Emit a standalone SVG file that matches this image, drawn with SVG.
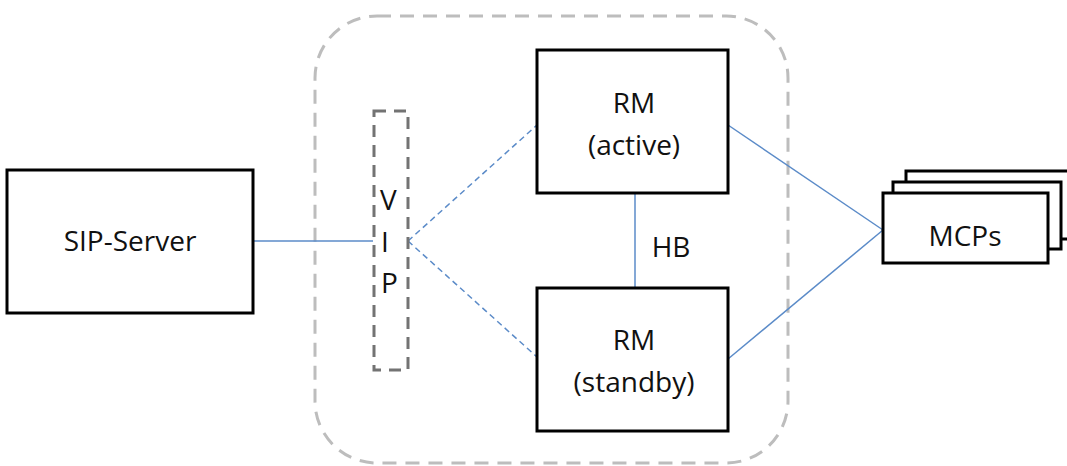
<svg xmlns="http://www.w3.org/2000/svg" width="1067" height="466" viewBox="0 0 1067 466">
<style>
.box{fill:#fff;stroke:#000;stroke-width:3}
.t{font-family:"Open Sans","Noto Sans",sans-serif;font-size:28px;fill:#111;text-anchor:middle}
.c{stroke:#5b8bc8;stroke-width:1.5;fill:none}
.d{stroke-dasharray:6,4}
</style>
<rect width="1067" height="466" fill="#fff"/>
<g id="cluster">
<rect x="315" y="16" width="473" height="447" rx="62" fill="none" stroke="#bdbdbd" stroke-width="3" stroke-dasharray="14,9"/>
</g>
<g id="connectors">
<line class="c" x1="253" y1="241" x2="373" y2="241"/>
<line class="c d" x1="408" y1="241" x2="537" y2="125"/>
<line class="c d" x1="408" y1="241" x2="537" y2="357"/>
<line class="c" x1="635" y1="193" x2="635" y2="288"/>
<line class="c" x1="728" y1="125" x2="883" y2="230"/>
<line class="c" x1="728" y1="359" x2="883" y2="230"/>
</g>
<g id="sip-server">
<rect class="box" x="7" y="170" width="246" height="143"/>
<text class="t" x="130" y="251">SIP-Server</text>
</g>
<g id="vip">
<rect x="374" y="111" width="34" height="259" fill="none" stroke="#737373" stroke-width="3" stroke-dasharray="12,8"/>
<text class="t" x="380" y="210" style="text-anchor:start">V</text>
<text class="t" x="381" y="252" style="text-anchor:start">I</text>
<text class="t" x="381" y="293" style="text-anchor:start">P</text>
</g>
<g id="rm-active">
<rect class="box" x="537" y="50" width="191" height="143"/>
<text class="t" x="634" y="113">RM</text>
<text class="t" x="634" y="155">(active)</text>
</g>
<g id="rm-standby">
<rect class="box" x="537" y="288" width="191" height="143"/>
<text class="t" x="634" y="350">RM</text>
<text class="t" x="634" y="392">(standby)</text>
</g>
<g id="hb-label">
<text class="t" x="671" y="257">HB</text>
</g>
<g id="mcps">
<rect class="box" x="906" y="171" width="170" height="68"/>
<rect class="box" x="893" y="182" width="168" height="67"/>
<rect class="box" x="883" y="193" width="165" height="70"/>
<text class="t" x="965" y="246">MCPs</text>
</g>
</svg>
